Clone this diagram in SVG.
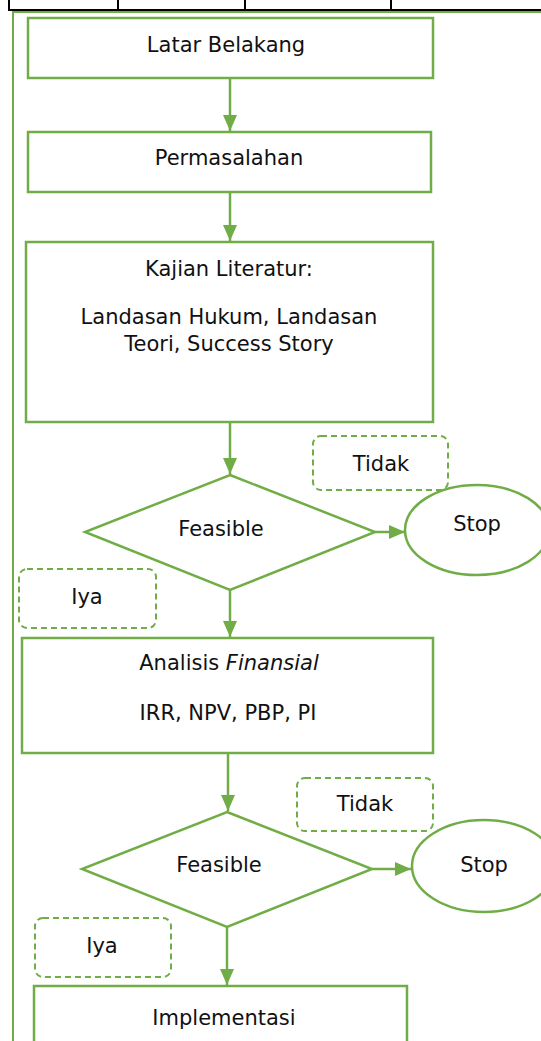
<svg xmlns="http://www.w3.org/2000/svg" width="541" height="1041" viewBox="0 0 541 1041">
<defs>
<style>
.n{fill:#fff;stroke:#70AD47;stroke-width:2.5}
.d{fill:#fff;stroke:#70AD47;stroke-width:2;stroke-dasharray:6 4}
.c{fill:none;stroke:#70AD47;stroke-width:2.5}
.t{font-family:"DejaVu Sans",Verdana,sans-serif;font-size:21px;fill:#111;text-anchor:middle}
.k{stroke:#000;stroke-width:2}
</style>
<marker id="ah" viewBox="0 0 16 14" refX="16" refY="7" markerWidth="16" markerHeight="14" markerUnits="userSpaceOnUse" orient="auto"><path d="M0,0L16,7L0,14z" fill="#70AD47"/></marker>
</defs>
<g id="frame">
<line class="k" x1="9" y1="0" x2="9" y2="11"/>
<line class="k" x1="118" y1="0" x2="118" y2="11"/>
<line class="k" x1="245" y1="0" x2="245" y2="11"/>
<line class="k" x1="391" y1="0" x2="391" y2="11"/>
<line class="k" x1="8" y1="10" x2="541" y2="10"/>
<path d="M13,1041V12H541" fill="none" stroke="#70AD47" stroke-width="2"/>
</g>
<g id="connectors">
<line class="c" x1="230" y1="78" x2="230" y2="131" marker-end="url(#ah)"/>
<line class="c" x1="230" y1="192" x2="230" y2="241" marker-end="url(#ah)"/>
<line class="c" x1="230" y1="422" x2="230" y2="474" marker-end="url(#ah)"/>
<path class="c" d="M375,532Q382,532 405,532" marker-end="url(#ah)"/>
<line class="c" x1="230" y1="590" x2="230" y2="637" marker-end="url(#ah)"/>
<line class="c" x1="228" y1="753" x2="228" y2="811" marker-end="url(#ah)"/>
<line class="c" x1="372" y1="869" x2="411" y2="869" marker-end="url(#ah)"/>
<line class="c" x1="227" y1="927" x2="227" y2="985" marker-end="url(#ah)"/>
</g>
<g id="latar"><rect class="n" x="28" y="18" width="405" height="60"/><text class="t" x="226" y="52">Latar Belakang</text></g>
<g id="permasalahan"><rect class="n" x="28" y="132" width="403" height="60"/><text class="t" x="229" y="165">Permasalahan</text></g>
<g id="kajian"><rect class="n" x="26" y="242" width="407" height="180"/>
<text class="t" x="229" y="276">Kajian Literatur:</text>
<text class="t" x="229" y="324">Landasan Hukum, Landasan</text>
<text class="t" x="229" y="351">Teori, Success Story</text></g>
<g id="tidak1"><rect class="d" x="313" y="436" width="135" height="54" rx="8"/><text class="t" x="381" y="471">Tidak</text></g>
<g id="feasible1"><polygon class="n" points="230,475 375,532 230,590 85,532"/><text class="t" x="221" y="536">Feasible</text></g>
<g id="stop1"><ellipse class="n" cx="477" cy="530" rx="72" ry="45"/><text class="t" x="477" y="531">Stop</text></g>
<g id="iya1"><rect class="d" x="19" y="569" width="137" height="59" rx="8"/><text class="t" x="87" y="604">Iya</text></g>
<g id="analisis"><rect class="n" x="22" y="638" width="411" height="115"/>
<text class="t" x="229" y="670">Analisis <tspan font-style="italic">Finansial</tspan></text>
<text class="t" x="228" y="720">IRR, NPV, PBP, PI</text></g>
<g id="tidak2"><rect class="d" x="297" y="778" width="136" height="53" rx="8"/><text class="t" x="365" y="811">Tidak</text></g>
<g id="feasible2"><polygon class="n" points="227,812 372,869 227,927 82,869"/><text class="t" x="219" y="872">Feasible</text></g>
<g id="stop2"><ellipse class="n" cx="484" cy="866" rx="72" ry="46"/><text class="t" x="484" y="872">Stop</text></g>
<g id="iya2"><rect class="d" x="35" y="918" width="136" height="59" rx="8"/><text class="t" x="102" y="953">Iya</text></g>
<g id="implementasi"><rect class="n" x="34" y="986" width="373" height="70"/><text class="t" x="224" y="1025">Implementasi</text></g>
</svg>
